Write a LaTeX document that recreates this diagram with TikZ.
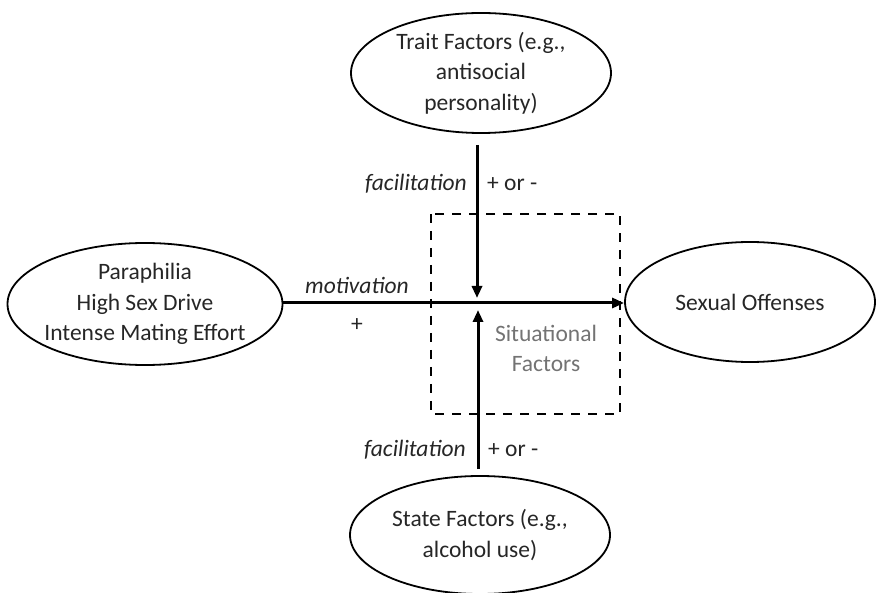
\documentclass[tikz,border=0pt]{standalone}
\usepackage{fontspec}
\setmainfont{Carlito}
\usetikzlibrary{shapes.geometric,arrows.meta}
\begin{document}
\begin{tikzpicture}[x=1pt,y=-1pt,
  factor/.style={draw=black,line width=1.8pt,ellipse,inner sep=-30pt,
    minimum width=#1,align=center,font=\fontsize{23.5}{30.5}\selectfont,text=black!85},
  link/.style={line width=3pt,-{Triangle[length=12pt,width=10pt]}},
  lbl/.style={font=\fontsize{23.5}{29}\selectfont,text=black!85,inner sep=0pt}]
\useasboundingbox (0,0) rectangle (878,593);
% situational factors box
\draw[line width=2.2pt,dash pattern=on 9pt off 8pt] (431,214) rectangle (620,414);
\node[lbl,text=black!55,align=center,font=\fontsize{23.5}{30}\selectfont] (sit) at (546,348) {Situational\\Factors};
% factor ellipses
\node[factor=260pt,minimum height=120pt] (trait) at (481,73) {Trait Factors (e.g.,\\antisocial\\personality)};
\node[factor=275pt,minimum height=122pt] (para) at (145,304) {Paraphilia\\High Sex Drive\\Intense Mating Effort};
\node[factor=250pt,minimum height=120pt] (off) at (750,302) {Sexual Offenses};
\node[factor=260pt,minimum height=118pt] (state) at (480,535) {State Factors (e.g.,\\alcohol use)};
% connectors
\coordinate (hit) at (477,303);
\draw[link] (para.east |- hit) -- (off.west |- hit);
\coordinate (ttop) at (477,145);
\coordinate (tend) at (477,298);
\draw[link] (ttop) -- (tend);
\coordinate (bbot) at (478,469);
\coordinate (bend) at (478,310);
\draw[link] (bbot) -- (bend);
% labels
\node[lbl,anchor=east,font=\itshape\fontsize{23.5}{29}\selectfont] (f1) at (467,184) {facilitation};
\node[lbl,anchor=west] (p1) at (487,184) {+ or -};
\node[lbl,anchor=east,font=\itshape\fontsize{23.5}{29}\selectfont] (f2) at (466,450) {facilitation};
\node[lbl,anchor=west] (p2) at (488,450) {+ or -};
\node[lbl,font=\itshape\fontsize{23.5}{29}\selectfont] (mot) at (357,285) {motivation};
\node[lbl] (plus) at (357,325) {+};
\end{tikzpicture}
\end{document}
